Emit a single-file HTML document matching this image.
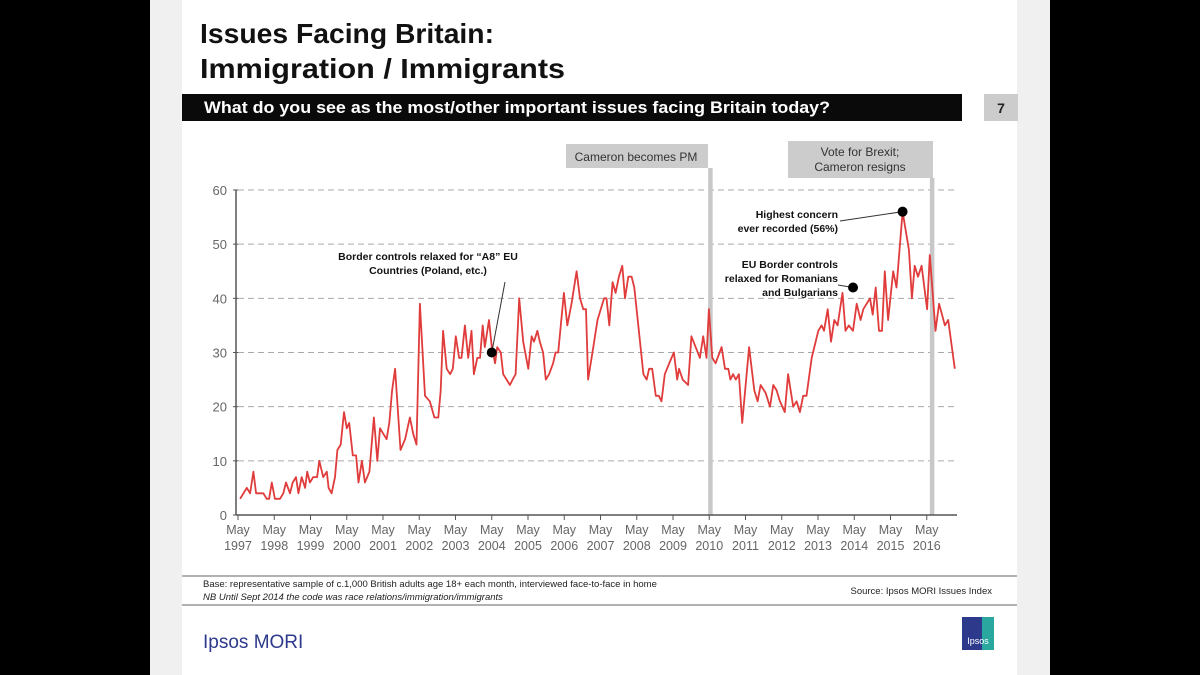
<!DOCTYPE html>
<html><head><meta charset="utf-8"><style>
body{margin:0;width:1200px;height:675px;background:#000;overflow:hidden;font-family:"Liberation Sans",sans-serif}
svg{position:absolute;left:0;top:0}
</style></head><body>
<svg width="1200" height="675">
<rect x="150" y="0" width="900" height="675" fill="#f0f0f0"/>
<rect x="182" y="0" width="835" height="675" fill="#fff"/>
<text x="200" y="43" font-size="28" font-weight="bold" fill="#111" textLength="294" lengthAdjust="spacingAndGlyphs">Issues Facing Britain:</text>
<text x="200" y="78" font-size="28" font-weight="bold" fill="#111" textLength="365" lengthAdjust="spacingAndGlyphs">Immigration / Immigrants</text>
<rect x="182" y="94" width="780" height="27" fill="#0a0a0a"/>
<text x="204" y="113" font-size="16.5" font-weight="bold" fill="#fff" textLength="626" lengthAdjust="spacingAndGlyphs">What do you see as the most/other important issues facing Britain today?</text>
<rect x="984" y="94" width="34" height="27" fill="#ccc"/>
<text x="1001" y="113" font-size="14" font-weight="bold" fill="#222" text-anchor="middle">7</text>
<g id="grid"></g>
<rect x="566" y="144" width="142" height="24" fill="#ccc"/>
<text x="636" y="161" font-size="12" fill="#333" text-anchor="middle">Cameron becomes PM</text>
<rect x="788" y="141" width="145" height="37" fill="#ccc"/>
<text x="860" y="156" font-size="12" fill="#333" text-anchor="middle">Vote for Brexit;</text>
<text x="860" y="171" font-size="12" fill="#333" text-anchor="middle">Cameron resigns</text>
<g id="chart"></g>
<g font-size="10.5" font-weight="bold" fill="#111">
<text x="428" y="260" text-anchor="middle">Border controls relaxed for “A8” EU</text>
<text x="428" y="274" text-anchor="middle">Countries (Poland, etc.)</text>
<text x="838" y="218" text-anchor="end">Highest concern</text>
<text x="838" y="232" text-anchor="end">ever recorded (56%)</text>
<text x="838" y="268" text-anchor="end">EU Border controls</text>
<text x="838" y="282" text-anchor="end">relaxed for Romanians</text>
<text x="838" y="296" text-anchor="end">and Bulgarians</text>
</g>
<line x1="182" y1="576" x2="1017" y2="576" stroke="#999" stroke-width="1.5"/>
<line x1="182" y1="605" x2="1017" y2="605" stroke="#999" stroke-width="1.5"/>
<text x="203" y="587" font-size="9.5" fill="#222">Base: representative sample of c.1,000 British adults age 18+ each month, interviewed face-to-face in home</text>
<text x="203" y="600" font-size="9.5" font-style="italic" fill="#222">NB Until Sept 2014 the code was race relations/immigration/immigrants</text>
<text x="992" y="594" font-size="9.5" fill="#222" text-anchor="end">Source: Ipsos MORI Issues Index</text>
<text x="203" y="648" font-size="19" fill="#2d3a8c">Ipsos MORI</text>
<rect x="962" y="617" width="32" height="33" fill="#2aa8a0"/>
<rect x="962" y="617" width="20" height="33" fill="#2d3a8c"/>
<text x="978" y="644" font-size="9" fill="#fff" text-anchor="middle">Ipsos</text>
</svg>
<script>
const months=[0.7,2.9,4.0,5.1,6.0,8.4,9.5,10.3,11.2,12.2,13.9,15.0,15.9,17.2,18.1,19.2,20.0,21.1,22.2,22.9,23.8,24.9,26.2,26.9,28.2,29.4,30.0,31.0,32.1,32.9,34.0,35.1,36.0,36.8,38.0,39.1,39.9,41.0,42.0,43.5,45.0,46.1,47.0,48.1,49.2,50.1,51.0,52.0,53.8,55.3,56.9,58.0,59.1,60.2,61.9,63.5,65.0,66.3,67.1,67.9,69.1,70.2,71.1,72.1,73.2,74.0,75.1,76.2,77.3,78.1,79.2,80.1,81.0,81.7,83.1,84.0,85.1,85.8,87.0,87.8,88.9,90.0,90.9,91.9,93.1,94.4,96.1,97.2,98.0,99.1,99.9,101.0,101.9,103.0,104.3,105.1,106.0,107.9,109.0,110.4,112.1,113.2,114.3,115.2,115.9,117.6,119.0,121.2,122.0,122.9,124.0,125.0,126.1,127.2,128.1,129.2,130.3,131.2,132.5,134.2,135.3,136.1,137.1,138.3,139.3,140.2,141.3,143.5,144.3,145.4,146.0,147.2,149.0,150.1,152.9,154.0,155.1,155.9,157.0,158.1,160.1,161.2,162.3,163.0,163.9,164.8,165.8,166.9,169.2,170.9,172.0,173.0,174.7,176.1,177.2,178.3,179.4,181.0,182.1,183.8,184.9,186.0,187.1,188.2,189.9,192.1,193.2,194.0,195.2,196.3,197.4,198.5,200.1,201.1,202.2,203.6,204.8,206.1,207.0,209.2,210.1,211.1,212.2,213.2,214.1,215.2,216.9,218.0,220.0,222.1,223.1,224.0,225.1,226.3,228.1,229.0,230.9,232.1,234.0,235.1,237.3];
const values=[3,5,4,8,4,4,3,3,6,3,3,4,6,4,6,7,4,7,5,8,6,7,7,10,7,8,5,4,7,12,13,19,16,17,11,11,6,10,6,8,18,10,16,15,14,17,23,27,12,14,18,15,13,39,22,21,18,18,23,34,27,26,27,33,29,29,35,29,34,26,29,29,35,31,36,31,28,31,30,26,25,24,25,26,40,32,27,33,32,34,32,30,25,26,28,30,30,41,35,39,45,40,38,38,25,31,36,40,40,35,43,41,44,46,40,44,44,42,35,26,25,27,27,22,22,21,26,29,30,25,27,25,24,33,29,33,29,38,29,28,31,27,27,25,26,25,26,17,31,23,21,24,22.5,20,24,23,21,19,26,20,21,19,22,22,29,34,35,34,38,32,36,35,41,34,35,34,39,36,38,40,37,42,34,34,45,36,45,42,56,49,40,46,44,46,38,48,34,39,35,36,27];
const yTicks=[0,10,20,30,40,50,60];
const xTickYears=[1997,1998,1999,2000,2001,2002,2003,2004,2005,2006,2007,2008,2009,2010,2011,2012,2013,2014,2015,2016];
const events=[{m:156.3},{m:229.7}];
const annotations=[{m:84.0,v:30,x2:505,y2:282},{m:203.6,v:42,x2:838,y2:285},{m:220.0,v:56,x2:840,y2:221}];
const NS="http://www.w3.org/2000/svg";
const X=m=>238+m*36.25/12, Y=v=>515-v*325/60;
const g=document.getElementById('chart'), gr=document.getElementById('grid');
function mk(p,t,a){const e=document.createElementNS(NS,t);for(const k in a)e.setAttribute(k,a[k]);p.appendChild(e);return e;}
yTicks.forEach(t=>{
 if(t>0){const l=mk(gr,'line',{x1:238,x2:957,y1:Y(t),y2:Y(t),stroke:'#aaa','stroke-dasharray':'6,4'});
 
 }
 mk(gr,'line',{x1:233,x2:238,y1:Y(t),y2:Y(t),stroke:'#555'});
 const tx=mk(gr,'text',{x:227,y:Y(t)+5,'font-size':13,fill:'#666','text-anchor':'end'});tx.textContent=t;
 
 
});
events.forEach(ev=>{const r=mk(gr,'rect',{x:X(ev.m)-2,y:ev.m<200?168:178,width:4.5,height:515-(ev.m<200?168:178),fill:'#c8c8c8'});
 
 });
mk(gr,'line',{x1:236,x2:236,y1:Y(60),y2:515,stroke:'#555','stroke-width':1.5});
mk(gr,'line',{x1:236,x2:957,y1:515,y2:515,stroke:'#555','stroke-width':1.5});
xTickYears.forEach((yr,i)=>{const x=X(i*12);
 mk(gr,'line',{x1:x,x2:x,y1:515,y2:520,stroke:'#555'});
 const a=mk(gr,'text',{x:x,y:534,'font-size':12.5,fill:'#666','text-anchor':'middle'});a.textContent='May';
 
 
 const b=mk(gr,'text',{x:x,y:550,'font-size':12.5,fill:'#666','text-anchor':'middle'});b.textContent=yr;
 
 
});
const pl=mk(g,'polyline',{points:months.map((m,i)=>X(m).toFixed(1)+','+Y(values[i]).toFixed(1)).join(' '),fill:'none',stroke:'#e03c3c','stroke-width':1.8,'stroke-linejoin':'round'});


annotations.forEach(a=>{
 mk(g,'line',{x1:X(a.m),y1:Y(a.v),x2:a.x2,y2:a.y2,stroke:'#333','stroke-width':1});
 const c=mk(g,'circle',{cx:X(a.m),cy:Y(a.v),r:5,fill:'#000'});
 
 
});
</script>
</body></html>
